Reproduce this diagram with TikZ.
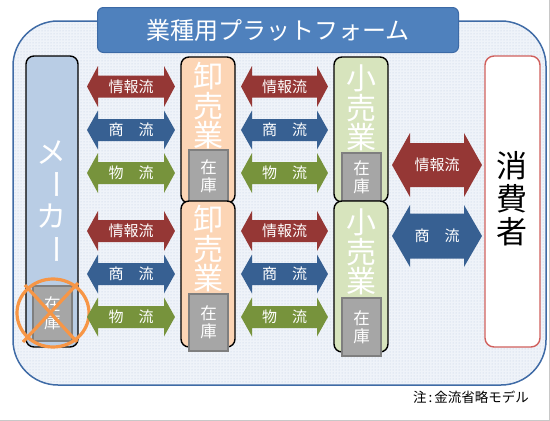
\documentclass[tikz,border=0pt]{standalone}
\usepackage{fontspec}
\setmainfont{Noto Sans CJK JP}
\usetikzlibrary{patterns}
\definecolor{platline}{HTML}{3F6BA6}
\definecolor{platfill}{HTML}{EFF3F9}
\definecolor{platdot}{HTML}{BCCCE2}
\definecolor{titleblue}{HTML}{4F81BD}
\definecolor{titleline}{HTML}{3C6AA6}
\definecolor{makerfill}{HTML}{B9CDE5}
\definecolor{wholefill}{HTML}{FCD5B5}
\definecolor{retailfill}{HTML}{D7E4BD}
\definecolor{stockfill}{HTML}{A6A6A6}
\definecolor{stockline}{HTML}{7F7F7F}
\definecolor{consline}{HTML}{D0605D}
\definecolor{arred}{HTML}{953735}
\definecolor{arblue}{HTML}{376092}
\definecolor{argreen}{HTML}{77933C}
\definecolor{xorange}{HTML}{F79646}
\definecolor{framegray}{HTML}{C8C8C8}
\newcommand\dblarr[9]{%
  \fill[#8] (#2,#4) -- (#2+#7,#4-#6) -- (#2+#7,#4-#5) -- (#3-#7,#4-#5) -- (#3-#7,#4-#6) -- (#3,#4)
     -- (#3-#7,#4+#6) -- (#3-#7,#4+#5) -- (#2+#7,#4+#5) -- (#2+#7,#4+#6) -- cycle;
  \node[arrtext] (#1) at ({(#2+#3)/2},#4) {#9};}
\begin{document}
\begin{tikzpicture}[x=1pt,y=-1pt,
  box/.style={draw=black, line width=1.4pt, rounded corners=8pt, anchor=north west, inner sep=0pt, outer sep=0pt},
  stockbox/.style={draw=stockline, fill=stockfill, line width=1.2pt, anchor=north west, inner sep=0pt, outer sep=0pt, minimum width=39pt},
  bigtext/.style={text=white, font=\fontsize{30}{29.5}\selectfont, align=center, inner sep=0pt},
  stocktext/.style={text=white, font=\fontsize{16.5}{18}\selectfont, align=center, inner sep=0pt},
  arrtext/.style={text=white, font=\fontsize{15}{15}\selectfont, inner sep=0pt}]
\useasboundingbox (0,0) rectangle (550,421);
\fill[white] (0,0) rectangle (550,421);
\draw[framegray, line width=1pt] (549.5,0) -- (549.5,421);
\draw[framegray, line width=1pt] (0,420.5) -- (550,420.5);
% platform
\node[fill=platfill, draw=platline, line width=1.5pt, rounded corners=45pt, anchor=north west,
  minimum width=533pt, minimum height=364pt, inner sep=0pt, outer sep=0pt] (plat) at (13,21) {};
\fill[pattern=dots, pattern color=platdot, rounded corners=44pt] (14,22) rectangle (545,384);
% title
\node[fill=titleblue, draw=titleline, line width=1pt, rounded corners=6pt, anchor=north west,
  minimum width=361pt, minimum height=45pt, inner sep=0pt, text=white,
  font=\fontsize{24}{24}\selectfont] (title) at (97,7) {業種用プラットフォーム};
% maker
\node[box, fill=makerfill, minimum width=52pt, minimum height=291pt] (maker) at (26,56) {};
\node[bigtext] (mk1) at (52,153) {メ};
\node[bigtext, rotate=-90] (mk2) at (52,184) {ー};
\node[bigtext] (mk3) at (52,216) {カ};
\node[bigtext, rotate=-90] (mk4) at (52,249) {ー};
\node[stockbox, minimum height=55pt] (mkstock) at (33,286) {};
\node[stocktext] (mkstocktxt) at (mkstock.center) {在\\庫};
\draw[xorange, line width=3.2pt] (53,313) ellipse [x radius=36, y radius=34];
\draw[xorange, line width=3.2pt] (25,285) -- (77,342);
\draw[xorange, line width=3.2pt] (78,283) -- (23,342);
% wholesale
\node[box, fill=wholefill, minimum width=54pt, minimum height=146pt] (wh1) at (181,57) {};
\node[bigtext] (wh1txt) at (208,106) {卸\\売\\業};
\node[stockbox, minimum height=52pt] (wh1stock) at (189,150) {};
\node[stocktext] (wh1stocktxt) at (wh1stock.center) {在\\庫};
\node[box, fill=wholefill, minimum width=54pt, minimum height=146pt] (wh2) at (181,201) {};
\node[bigtext] (wh2txt) at (208,249) {卸\\売\\業};
\node[stockbox, minimum height=57pt] (wh2stock) at (189,294) {};
\node[stocktext] (wh2stocktxt) at (wh2stock.center) {在\\庫};
% retail
\node[box, fill=retailfill, minimum width=54pt, minimum height=145pt] (rt1) at (334,57) {};
\node[bigtext] (rt1txt) at (361,108) {小\\売\\業};
\node[stockbox, minimum height=48pt] (rt1stock) at (342,153) {};
\node[stocktext] (rt1stocktxt) at (rt1stock.center) {在\\庫};
\node[box, fill=retailfill, minimum width=54pt, minimum height=151pt] (rt2) at (334,201) {};
\node[bigtext] (rt2txt) at (361,252) {小\\売\\業};
\node[stockbox, minimum height=58pt] (rt2stock) at (342,298) {};
\node[stocktext] (rt2stocktxt) at (rt2stock.center) {在\\庫};
% consumer
\node[draw=consline, fill=white, line width=1.4pt, rounded corners=9pt, anchor=north west,
  minimum width=55pt, minimum height=291pt, inner sep=0pt, outer sep=0pt] (cons) at (485,56) {};
\node[text=black, font=\fontsize{31}{33}\selectfont, align=center, inner sep=0pt] (constxt) at (512,199) {消\\費\\者};
% small arrows
\dblarr{a1}{87}{175}{86.5}{11}{20.5}{11}{arred}{情報流}
\dblarr{a2}{87}{175}{130}{11}{19.5}{11}{arblue}{商\hspace{1em}流}
\dblarr{a3}{87}{175}{173}{11}{20}{11}{argreen}{物\hspace{1em}流}
\dblarr{a4}{87}{175}{231}{11}{20}{11}{arred}{情報流}
\dblarr{a5}{87}{175}{274}{11}{19.5}{11}{arblue}{商\hspace{1em}流}
\dblarr{a6}{87}{175}{317}{11}{19.5}{11}{argreen}{物\hspace{1em}流}
\dblarr{b1}{241}{328}{86.5}{11}{20.5}{11}{arred}{情報流}
\dblarr{b2}{241}{328}{130}{11}{19.5}{11}{arblue}{商\hspace{1em}流}
\dblarr{b3}{241}{328}{173}{11}{20}{11}{argreen}{物\hspace{1em}流}
\dblarr{b4}{241}{328}{231}{11}{20}{11}{arred}{情報流}
\dblarr{b5}{241}{328}{274}{11}{19.5}{11}{arblue}{商\hspace{1em}流}
\dblarr{b6}{241}{328}{317}{11}{19.5}{11}{argreen}{物\hspace{1em}流}
% big arrows
\dblarr{c1}{392}{482}{165}{22}{32}{18}{arred}{情報流}
\dblarr{c2}{392}{482}{236}{22.5}{31}{18}{arblue}{商\hspace{1em}流}
% note
\node[text=black, font=\fontsize{13.5}{14}\selectfont, anchor=west, inner sep=0pt] (note) at (413,397) {注\hspace{0.15em}:\hspace{0.15em}金流省略モデル};
\end{tikzpicture}
\end{document}
